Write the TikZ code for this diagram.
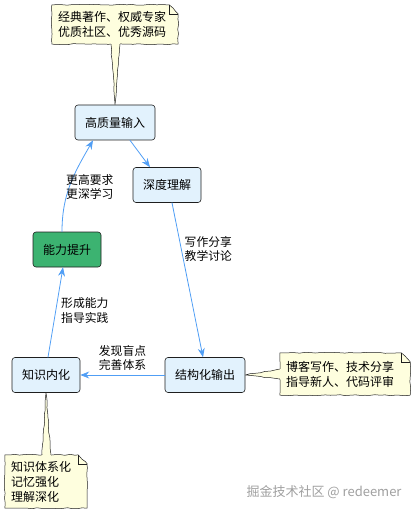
\documentclass[tikz,border=0pt]{standalone}
\usepackage{fontspec}
\setmainfont{Noto Sans CJK SC}
\usetikzlibrary{arrows.meta,decorations.pathmorphing,backgrounds}
\definecolor{boxblue}{RGB}{226,242,253}
\definecolor{boxgreen}{RGB}{60,179,113}
\definecolor{noteyel}{RGB}{254,254,222}
\definecolor{flowblue}{RGB}{80,158,245}
\definecolor{inkgray}{RGB}{30,30,30}

\begin{document}
\begin{tikzpicture}[x=1pt,y=-1pt,line cap=round,line join=round,
  >={Stealth[length=9pt,width=7pt,inset=3pt]},
  box/.style={draw=inkgray,line width=0.6pt,fill=boxblue,rounded corners=3pt,
    minimum height=35pt,inner sep=0pt,font=\fontsize{12}{14}\selectfont},
  note/.style={align=left,inner xsep=6pt,inner ysep=3pt,
    font=\fontsize{12}{15}\selectfont},
  lbl/.style={align=left,inner sep=0pt,font=\fontsize{11.8}{14.5}\selectfont},
  flow/.style={draw=flowblue,line width=0.8pt,->},
  sketch/.style={decorate,decoration={random steps,segment length=5pt,amplitude=0.5pt}}]
  \pgfmathsetseed{7}
  \useasboundingbox (0,0) rectangle (417,513);
  % boxes
  \node[box,minimum width=80pt] (hq) at (115,122.5) {高质量输入};
  \node[box,minimum width=68pt] (sd) at (167,185) {深度理解};
  \node[box,minimum width=68pt,fill=boxgreen] (nl) at (67,249.5) {能力提升};
  \node[box,minimum width=80pt] (jg) at (205,375) {结构化输出};
  \node[box,minimum width=68pt] (zs) at (46,375) {知识内化};
  % notes
  \node[note,text width=114pt,minimum height=39pt] (n1) at (115,24.5) {经典著作、权威专家\\优质社区、优秀源码};
  \node[note,text width=118pt,minimum height=42pt] (n2) at (345,374) {博客写作、技术分享\\指导新人、代码评审};
  \node[note,text width=70pt,minimum height=53pt] (n3) at (46,481.5) {知识体系化\\记忆强化\\理解深化};
  \begin{scope}[on background layer]
    \foreach \n in {n1,n2,n3}{
      \draw[sketch,draw=inkgray,line width=0.5pt,fill=noteyel]
        (\n.south west) -- (\n.north west) -- ([xshift=-9pt]\n.north east)
        -- ([yshift=-9pt]\n.north east) -- (\n.south east) -- cycle;
      \draw[draw=inkgray,line width=0.5pt] ([xshift=-9pt]\n.north east)
        -- ([xshift=-9pt,yshift=-9pt]\n.north east) -- ([yshift=-9pt]\n.north east);
    }
    % note tails
    \fill[noteyel] ([xshift=-4pt,yshift=1pt]n1.south) -- (hq.north) -- ([xshift=5pt,yshift=1pt]n1.south) -- cycle;
    \draw[sketch,draw=inkgray,line width=0.5pt] ([xshift=-4pt]n1.south) -- (hq.north) -- ([xshift=5pt]n1.south);
    \fill[noteyel] ([xshift=1pt,yshift=5pt]n2.west) -- (jg.east) -- ([xshift=1pt,yshift=-5pt]n2.west) -- cycle;
    \draw[sketch,draw=inkgray,line width=0.5pt] ([yshift=5pt]n2.west) -- (jg.east) -- ([yshift=-5pt]n2.west);
    \fill[noteyel] ([xshift=-4pt,yshift=-1pt]n3.north) -- (zs.south) -- ([xshift=5pt,yshift=-1pt]n3.north) -- cycle;
    \draw[sketch,draw=inkgray,line width=0.5pt] ([xshift=-4pt]n3.north) -- (zs.south) -- ([xshift=5pt]n3.north);
  \end{scope}
  % cycle
  \draw[flow] ([xshift=15pt]hq.south) -- ([xshift=-17pt]sd.north);
  \draw[flow] ([xshift=5pt]sd.south) -- ([xshift=-2pt]jg.north)
    node[lbl,pos=0.3,right=3pt] {写作分享\\教学讨论};
  \draw[flow] (jg.west) -- (zs.east)
    node[lbl,midway,above=4pt] {发现盲点\\完善体系};
  \draw[flow] ([xshift=2pt]zs.north) -- ([xshift=-4pt]nl.south)
    node[lbl,pos=0.52,right=5pt] {形成能力\\指导实践};
  \draw[flow] ([xshift=-5pt]nl.north) to[out=90,in=240] ([xshift=-22pt]hq.south);
  \node[lbl,anchor=west] (lb5) at (66,187) {更高要求\\更深学习};
  % watermark
  \node[text=gray!75,font=\fontsize{13}{15}\selectfont] (wm) at (324,492) {掘金技术社区 @ redeemer};
\end{tikzpicture}
\end{document}
